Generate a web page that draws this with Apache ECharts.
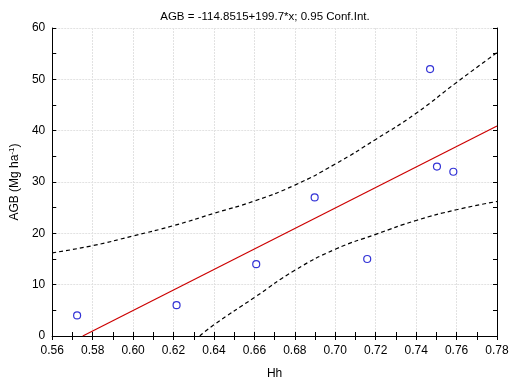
<!DOCTYPE html>
<html>
<head>
<meta charset="utf-8">
<script src="https://cdn.jsdelivr.net/npm/echarts@6/dist/echarts.min.js"></script>
<style>
html, body { margin: 0; padding: 0; background: #fff; }
#chart { width: 513px; height: 385px; }
</style>
</head>
<body>
<div id="chart"></div>
<script>
// observed points (Hh, AGB)
var hh = [0.5723, 0.6215, 0.6609, 0.6898, 0.7158, 0.7469, 0.7503, 0.7584];
var agb = [4, 6, 14, 27, 15, 52, 33, 32];

// fitted line, AGB = -114.8515 + 199.7*x (clipped at 0)
var fitX = [0.5751, 0.78];
var fitY = [0, 40.92];

// 0.95 confidence band
var upX = [0.56, 0.58, 0.60, 0.62, 0.64, 0.66, 0.68, 0.70, 0.72, 0.74, 0.76, 0.78];
var upY = [16.2, 17.6, 19.5, 21.5, 23.9, 26.3, 29.4, 33.5, 38.3, 43.4, 49.4, 55.2];
var loX = [0.633, 0.64, 0.66, 0.68, 0.70, 0.72, 0.74, 0.76, 0.78];
var loY = [0, 2.2, 7.5, 12.8, 16.9, 19.8, 22.5, 24.6, 26.2];

function pairs(xs, ys) {
	var out = [];
	for (var i = 0; i < xs.length; i++) {
		out.push([xs[i], ys[i]]);
	}
	return out;
}

var font = 'Liberation Sans, Arial, sans-serif';
var myChart = echarts.init(document.getElementById('chart'));

var xBase = {
	type : 'value', min : 0.56, max : 0.78, interval : 0.02,
	axisLine : { lineStyle : { color : '#000', width : 1 } },
	axisTick : { inside : true, length : 4, lineStyle : { color : '#000' } },
	minorTick : { show : true, splitNumber : 2, length : 4, lineStyle : { color : '#000' } }
};
var yBase = {
	type : 'value', min : 0, max : 60, interval : 10,
	axisLine : { show : true, lineStyle : { color : '#000', width : 1 } },
	axisTick : { show : true, inside : true, length : 4, lineStyle : { color : '#000' } },
	minorTick : { show : true, splitNumber : 2, length : 4, lineStyle : { color : '#000' } }
};

var option = {
	animation : false,
	title : {
		text : 'AGB = -114.8515+199.7*x; 0.95 Conf.Int.',
		left : 260, top : 6, textAlign : 'center',
		textStyle : { fontFamily : font, fontSize : 11.5, fontWeight : 'normal', color : '#000' }
	},
	grid : { left : 45, right : 16, top : 28, bottom : 43 },
	xAxis : [
		echarts.util.merge({
			position : 'bottom',
			name : 'Hh', nameLocation : 'middle', nameGap : 32,
			nameTextStyle : { fontFamily : font, fontSize : 12, color : '#000' },
			axisLabel : {
				fontFamily : font, fontSize : 12, color : '#000', margin : 9,
				formatter : function(v) { return v.toFixed(2); }
			},
			splitLine : { show : true, lineStyle : { color : '#e2e2e2', type : [2, 1] } }
		}, xBase, true),
		echarts.util.merge({
			position : 'top', axisLabel : { show : false }, splitLine : { show : false }
		}, xBase, true)
	],
	yAxis : [
		echarts.util.merge({
			position : 'left',
			name : '{n|AGB (Mg ha}{s|-1}{n|)}', nameLocation : 'middle', nameGap : 23,
			nameTextStyle : {
				rich : {
					n : { fontFamily : font, fontSize : 12, color : '#000', lineHeight : 14 },
					s : { fontFamily : font, fontSize : 8, color : '#000', lineHeight : 14, verticalAlign : 'top' }
				}
			},
			axisLabel : { fontFamily : font, fontSize : 12, color : '#000', margin : 7 },
			splitLine : { show : true, lineStyle : { color : '#e2e2e2', type : [2, 1] } }
		}, yBase, true),
		echarts.util.merge({
			position : 'right', axisLabel : { show : false }, splitLine : { show : false }
		}, yBase, true)
	],
	series : [
		{
			type : 'line', data : pairs(upX, upY), smooth : true, symbol : 'none',
			lineStyle : { color : '#000', width : 1.2, type : [4, 3] }, z : 3
		},
		{
			type : 'line', data : pairs(loX, loY), smooth : true, symbol : 'none',
			lineStyle : { color : '#000', width : 1.2, type : [4, 3] }, z : 3
		},
		{
			type : 'line', data : pairs(fitX, fitY), symbol : 'none',
			lineStyle : { color : '#cc0000', width : 1.2 }, z : 4
		},
		{
			type : 'scatter', data : pairs(hh, agb), symbol : 'circle', symbolSize : 7,
			itemStyle : { color : '#fff', borderColor : '#0000cc', borderWidth : 1.2 }, z : 5
		}
	]
};

myChart.setOption(option);
</script>
</body>
</html>
